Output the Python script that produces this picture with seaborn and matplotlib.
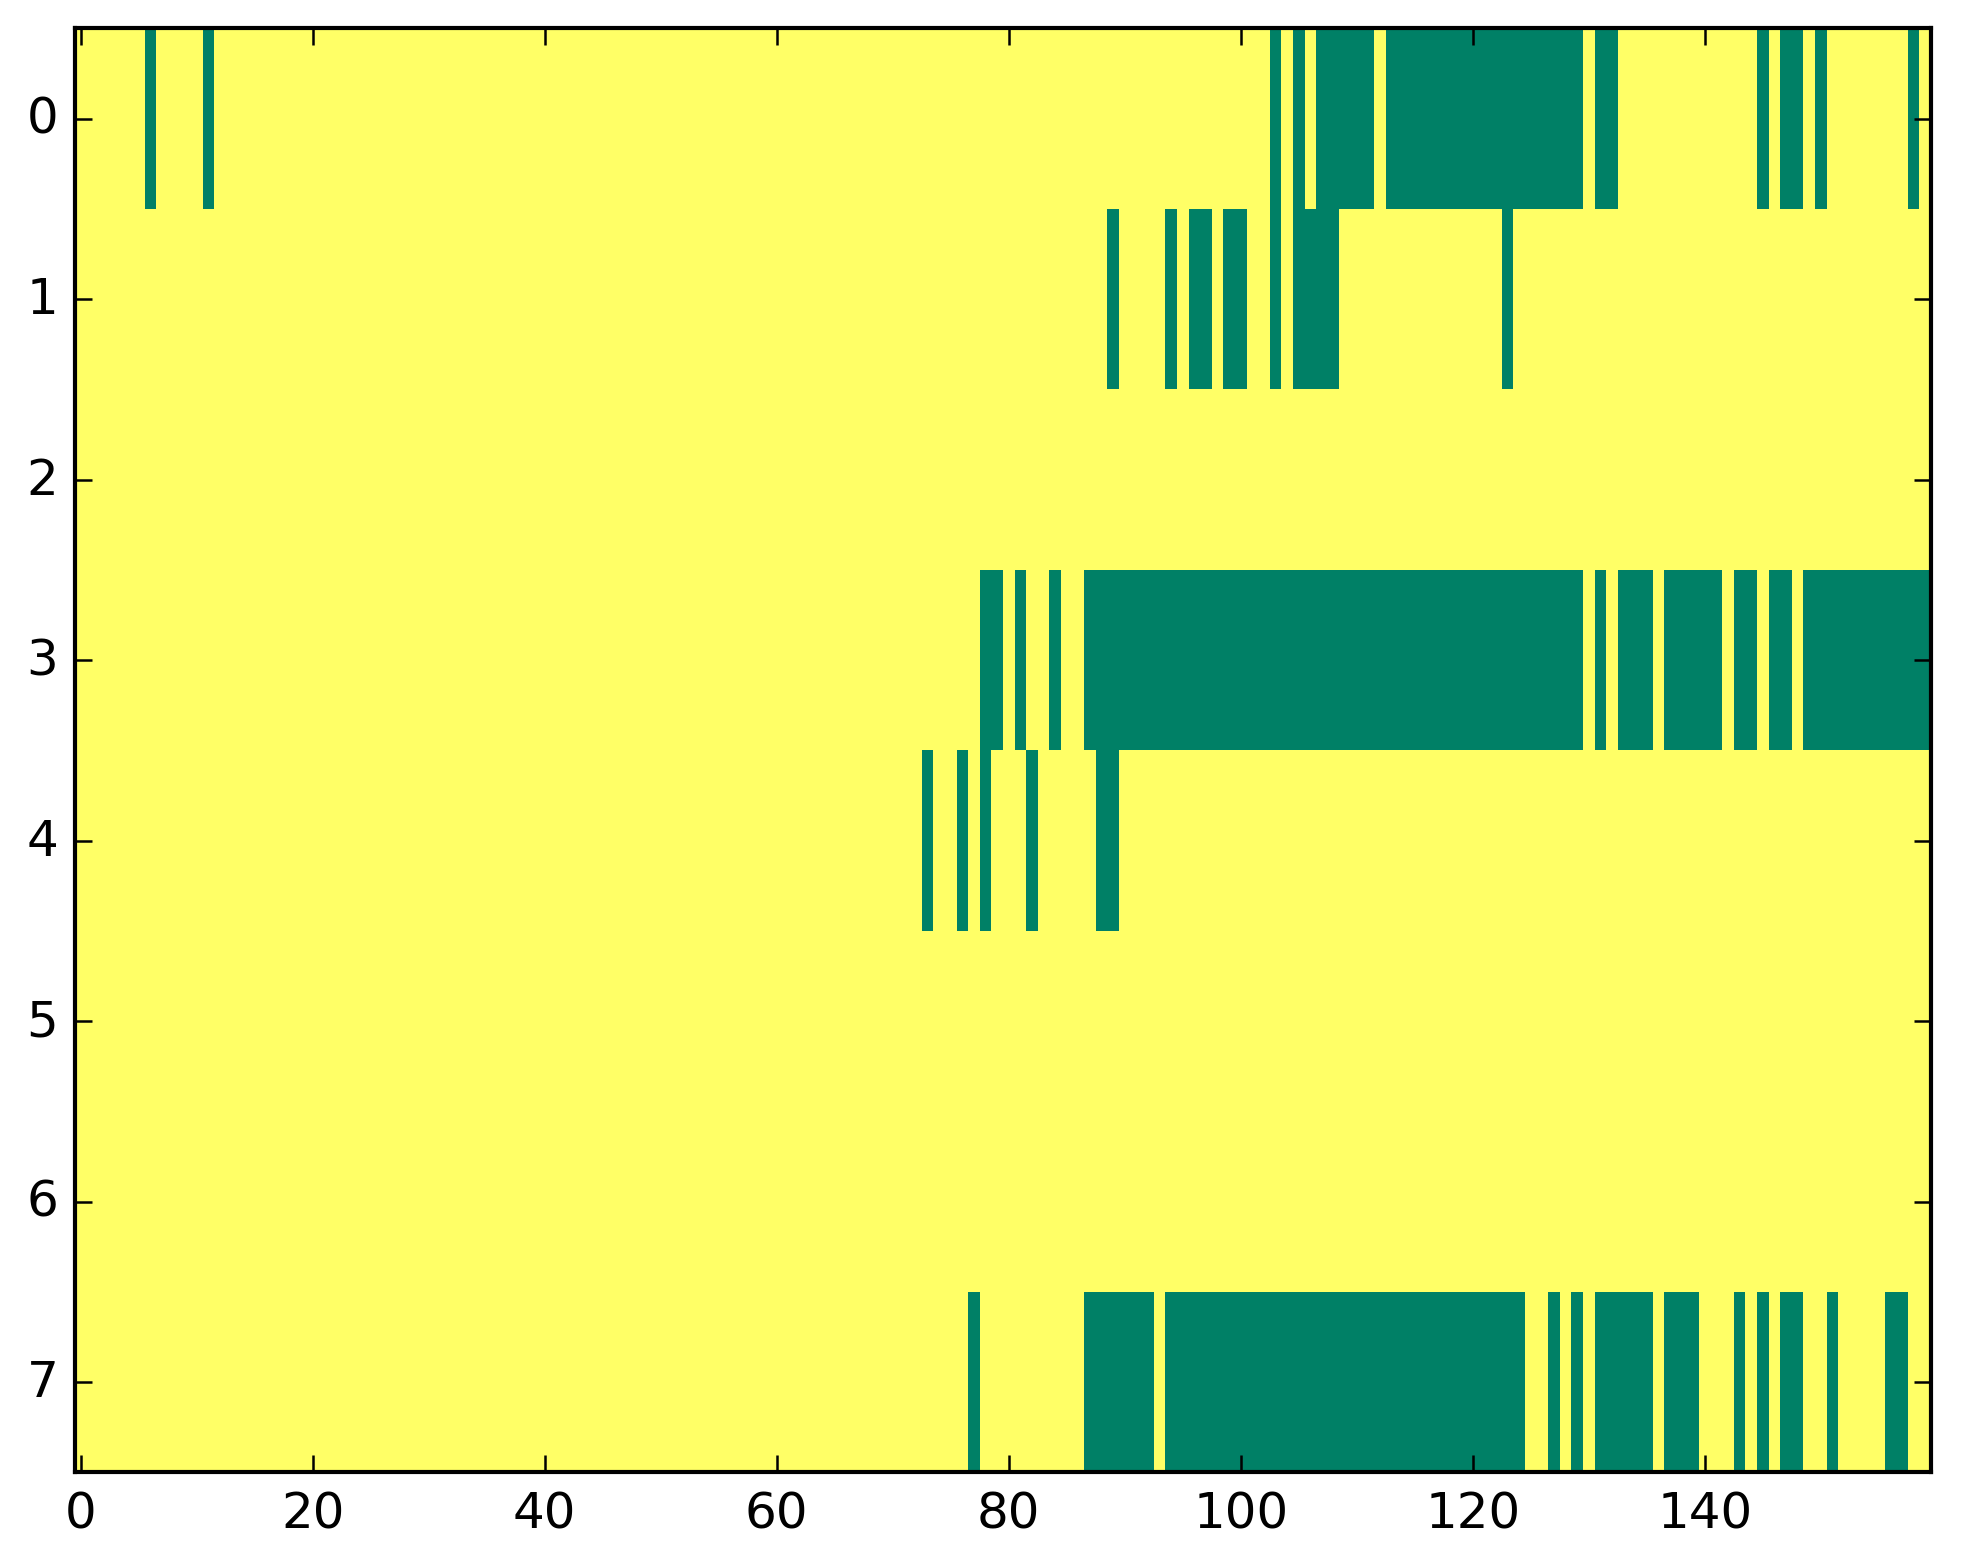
import numpy as np
import pandas as pd
import matplotlib
matplotlib.use("Agg")
import matplotlib.pyplot as plt
import seaborn as sns

# binary matrix, 8 rows x 160 columns; listed columns are 0 (green), rest are 1 (yellow)
n_rows = 8
n_cols = 160
row0_zero = [6, 11, 103, 105] + list(range(107, 112)) + list(range(113, 130)) + [131, 132, 145, 147, 148, 150, 158]
row1_zero = [89, 94, 96, 97, 99, 100, 103] + list(range(105, 109)) + [123]
row2_zero = []
row3_zero = [78, 79, 81, 84] + list(range(87, 130)) + [131, 133, 134, 135] + list(range(137, 142)) + [143, 144, 146, 147] + list(range(149, 160))
row4_zero = [73, 76, 78, 82, 88, 89]
row5_zero = []
row6_zero = []
row7_zero = [77] + list(range(87, 93)) + list(range(94, 125)) + [127, 129] + list(range(131, 136)) + [137, 138, 139, 143, 145, 147, 148, 151, 156, 157]

zero_cols = [row0_zero, row1_zero, row2_zero, row3_zero, row4_zero, row5_zero, row6_zero, row7_zero]

mat = np.ones((n_rows, n_cols))
for r, cols in enumerate(zero_cols):
    mat[r, cols] = 0
df = pd.DataFrame(mat)

sns.set_style("white")
plt.rcParams["font.family"] = ["DejaVu Sans"]
plt.rcParams["font.size"] = 12

fig = plt.figure(figsize=(1963 / 300, 1564 / 300), dpi=300)
ax = fig.add_axes([0.0382, 0.0579, 0.9455, 0.9234])
sns.heatmap(df, cmap="summer", vmin=0, vmax=1, cbar=False, ax=ax,
            xticklabels=False, yticklabels=False)

ax.set_xlim(0, n_cols)
ax.set_ylim(n_rows, 0)
ax.set_xticks(np.arange(0, n_cols, 20) + 0.5)
ax.set_xticklabels([str(v) for v in range(0, n_cols, 20)], rotation=0)
ax.set_yticks(np.arange(n_rows) + 0.5)
ax.set_yticklabels([str(v) for v in range(n_rows)], rotation=0, va="center")
ax.set_xlabel("")
ax.set_ylabel("")
ax.set_axisbelow(False)

for s in ax.spines.values():
    s.set_visible(True)
    s.set_color("black")
    s.set_linewidth(1.0)
    s.set_zorder(5)
ax.tick_params(direction="in", length=4, width=0.6, colors="black",
               top=True, right=True, bottom=True, left=True,
               labelsize=12, pad=4)

fig.savefig("out.png", dpi=300, facecolor="white")
